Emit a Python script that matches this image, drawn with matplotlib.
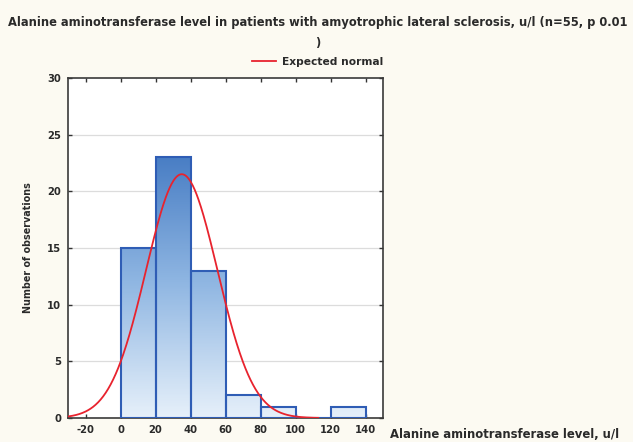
import numpy as np
import matplotlib
matplotlib.use("Agg")
import matplotlib.pyplot as plt
from matplotlib.colors import LinearSegmentedColormap

# Data
bin_edges = [0, 20, 40, 60, 80, 100, 120, 140]
counts = [15, 23, 13, 2, 1, 0, 1]
n_obs = 55
fit_mean = 35.0
fit_sd = 20.4
curve_range = (-30, 113)
xticks = [-20, 0, 20, 40, 60, 80, 100, 120, 140]
yticks = [0, 5, 10, 15, 20, 25, 30]

title = "Alanine aminotransferase level in patients with amyotrophic lateral sclerosis, u/l (n=55, p 0.01\n)"
xlabel = "Alanine aminotransferase level, u/l"
ylabel = "Number of observations"
legend_label = "Expected normal"

plt.rcParams["axes.unicode_minus"] = False

W, H = 633, 442
fig = plt.figure(figsize=(W / 100, H / 100), dpi=100)
fig.patch.set_facecolor("#fcfaf2")
font = ["DejaVu Sans"]
txtc = "#2a2a2a"
fs = 7.2

ax = fig.add_axes([68 / W, 1 - 418 / H, (383 - 68) / W, (418 - 78) / H])
ax.set_facecolor("white")

for y in yticks[1:-1]:
    ax.axhline(y, color="#dcdcdc", lw=0.9, zorder=0)

cmap = LinearSegmentedColormap.from_list("g", ["#e6f0fa", "#8fb6e2", "#4379c2"])
vmax = 24.0
bars = ax.bar(bin_edges[:-1], counts, width=np.diff(bin_edges), align="edge",
              facecolor="none", edgecolor="#2f5db5", linewidth=1.5, zorder=3)
for b, c in zip(bars, counts):
    if c <= 0:
        continue
    x0 = b.get_x()
    w = b.get_width()
    grad = np.linspace(0, c / vmax, 200).reshape(-1, 1)
    im = ax.imshow(grad, extent=(x0, x0 + w, 0, c), origin="lower", aspect="auto",
                   cmap=cmap, vmin=0, vmax=1, zorder=2, interpolation="bilinear")
    im.set_clip_path(b)
ax.set_xlim(-30, 150)
ax.set_ylim(0, 30)

bw = bin_edges[1] - bin_edges[0]
xs = np.linspace(curve_range[0], curve_range[1], 400)
ys = n_obs * bw / (fit_sd * np.sqrt(2 * np.pi)) * np.exp(-0.5 * ((xs - fit_mean) / fit_sd) ** 2)
line, = ax.plot(xs, ys, color="#e8232e", lw=1.3, zorder=4, label=legend_label)

ax.set_xticks(xticks)
ax.set_yticks(yticks)
ax.tick_params(direction="in", length=3, width=1, top=True, right=True,
               labelsize=fs, colors="#333333", labelcolor=txtc, pad=5)
for lab in ax.get_xticklabels() + ax.get_yticklabels():
    lab.set_fontfamily(font)
    lab.set_fontweight("bold")
for s in ax.spines.values():
    s.set_color("#3a3a3a")
    s.set_linewidth(1.2)

ax.set_ylabel(ylabel, fontsize=6.9, fontweight="bold", family=font, color=txtc, labelpad=10)
fig.text(390 / W, 1 - 434 / H, xlabel, fontsize=8.4, fontweight="bold", family=font,
         color=txtc, ha="left", va="center")

fig.text(0.5025, 1 - 16 / H, title, fontsize=8.3, fontweight="bold", family=font,
         color=txtc, ha="center", va="top", linespacing=1.75)

fig.legend(handles=[line], loc="center", bbox_to_anchor=(318 / W, 1 - 62 / H),
           frameon=False, handlelength=2.2, handletextpad=0.6,
           prop={"family": font, "size": 7.7, "weight": "bold"}, labelcolor=txtc)

fig.savefig("out.png", dpi=100, facecolor=fig.get_facecolor())
